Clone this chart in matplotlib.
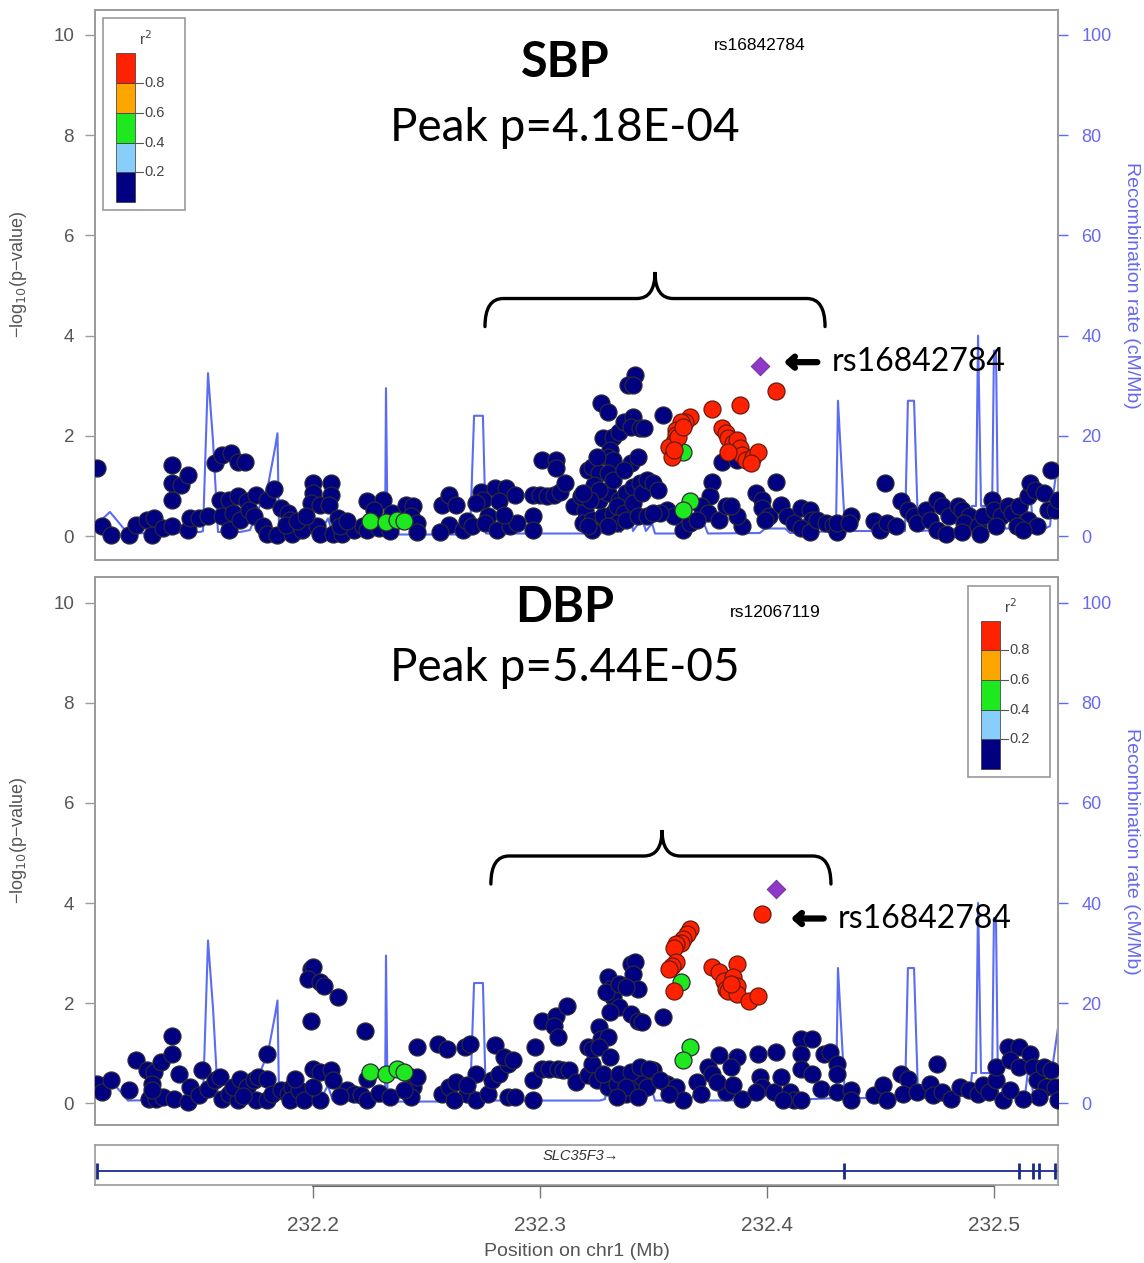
import matplotlib
matplotlib.use("Agg")
import matplotlib.pyplot as plt
from matplotlib.patches import Rectangle, PathPatch
from matplotlib.path import Path

plt.rcParams['font.family'] = ['Liberation Sans', 'DejaVu Sans']

# ============================================================
# data (positions in Mb on chr1, -log10 p)
# ============================================================

LD_COLORS = ['#000080', '#87cefa', '#1ee81e', '#ffa500', '#ff2200']
LD_BREAKS = ['0.2', '0.4', '0.6', '0.8']

# recombination rate (cM/Mb), shared by both panels
recomb_pos = [232.1040, 232.1106, 232.1185, 232.1503, 232.1516, 232.1538, 232.1560, 232.1582,
              232.1679, 232.1723, 232.1802, 232.1833, 232.1844, 232.1851, 232.2031, 232.2066,
              232.2088, 232.2318, 232.2322, 232.2329, 232.2692, 232.2710, 232.2749, 232.2762,
              232.3265, 232.3287, 232.3300, 232.3313, 232.3344, 232.3357, 232.3397, 232.3410,
              232.3450, 232.3467, 232.3494, 232.3507, 232.3661, 232.3683, 232.3727, 232.3740,
              232.3969, 232.3992, 232.4080, 232.4102, 232.4304, 232.4313, 232.4344, 232.4608,
              232.4621, 232.4648, 232.4666, 232.4895, 232.4903, 232.4921, 232.4930, 232.4943,
              232.4992, 232.5000, 232.5009, 232.5018, 232.5137, 232.5159, 232.5172, 232.5225,
              232.5247, 232.5260, 232.5282]
recomb_rate = [2.0, 4.8, 0.5, 0.8, 1.0, 32.5, 19, 0.8,
               0.8, 1.2, 10, 17.5, 20.5, 0.8, 0.5, 3.5,
               0.5, 0.3, 29.5, 0.3, 0.3, 24, 24, 0.5,
               0.5, 0.8, 5.5, 0.8, 4.5, 0.8, 6, 1,
               3.5, 1, 2.5, 0.5, 0.5, 2.0, 2.0, 0.5,
               0.6, 1.5, 1.5, 0.6, 1, 27, 1, 1,
               27, 27, 1, 1.5, 6, 6, 40, 6,
               6, 37, 37, 1.5, 1.5, 10, 1.5, 1.5,
               2, 8, 15]

# ---- SBP ----
sbp_navy_pos = [
    232.105, 232.107, 232.111, 232.119, 232.122, 232.127, 232.129, 232.130, 232.134, 232.138,
    232.138, 232.138, 232.138, 232.142, 232.145, 232.145, 232.146, 232.150, 232.154, 232.157,
    232.160, 232.164, 232.167, 232.170, 232.159, 232.163, 232.167, 232.171, 232.175, 232.180,
    232.183, 232.160, 232.163, 232.165, 232.168, 232.172, 232.174, 232.178, 232.180, 232.184,
    232.186, 232.189, 232.190, 232.191, 232.195, 232.200, 232.200, 232.199, 232.203, 232.208,
    232.208, 232.207, 232.211, 232.202, 232.203, 232.209, 232.213, 232.218, 232.222, 232.224,
    232.231, 232.227, 232.235, 232.224, 232.188, 232.193, 232.197, 232.212, 232.215, 232.229,
    232.234,
    232.241, 232.244, 232.243, 232.246, 232.246, 232.257, 232.260, 232.263, 232.260, 232.256,
    232.266, 232.268, 232.270, 232.274, 232.275, 232.272, 232.280, 232.285, 232.289, 232.282,
    232.277, 232.276, 232.281, 232.287, 232.290, 232.284, 232.297, 232.300, 232.303, 232.306,
    232.309, 232.311, 232.297, 232.297, 232.301, 232.307, 232.307, 232.315, 232.320, 232.318,
    232.321, 232.323, 232.326, 232.324, 232.327, 232.330, 232.328, 232.332, 232.335, 232.337,
    232.341, 232.340, 232.344, 232.346, 232.342, 232.339, 232.341, 232.331, 232.330, 232.332,
    232.354, 232.380, 232.387, 232.376, 232.375, 232.371, 232.374, 232.379, 232.382, 232.363,
    232.366, 232.369, 232.356, 232.359, 232.353, 232.319, 232.323, 232.328, 232.332, 232.326,
    232.330, 232.335, 232.338, 232.341, 232.344, 232.334, 232.337, 232.341, 232.345, 232.347,
    232.350, 232.352, 232.334, 232.330, 232.325, 232.330, 232.332, 232.326, 232.322, 232.319,
    232.340, 232.337, 232.343, 232.323, 232.321, 232.338, 232.343, 232.347, 232.350,
    232.404, 232.395, 232.398, 232.398, 232.401, 232.399, 232.389, 232.387, 232.384, 232.406,
    232.409, 232.412, 232.415, 232.419, 232.420, 232.415, 232.419, 232.422, 232.426, 232.429,
    232.431, 232.431, 232.437, 232.436, 232.452, 232.447, 232.450, 232.453, 232.457, 232.459,
    232.462, 232.465, 232.466, 232.470, 232.472, 232.475, 232.477, 232.480, 232.475, 232.479,
    232.484, 232.486, 232.489, 232.487, 232.493, 232.495, 232.499, 232.500, 232.503, 232.506,
    232.508, 232.511, 232.515, 232.516, 232.518, 232.515, 232.519, 232.522, 232.525, 232.524,
    232.527, 232.528, 232.510, 232.513, 232.501, 232.494, 232.486]
sbp_navy_logp = [
    1.35, 0.19, 0.02, 0.02, 0.22, 0.32, 0.02, 0.35, 0.15, 0.19,
    0.72, 1.42, 1.05, 1.02, 1.22, 0.12, 0.35, 0.35, 0.39, 1.45,
    1.62, 1.65, 1.48, 1.48, 0.72, 0.72, 0.79, 0.69, 0.82, 0.72,
    0.93, 0.39, 0.12, 0.45, 0.32, 0.52, 0.39, 0.19, 0.05, 0.02,
    0.55, 0.45, 0.32, 0.05, 0.12, 1.05, 0.85, 0.65, 0.62, 1.05,
    0.82, 0.62, 0.35, 0.19, 0.05, 0.05, 0.05, 0.12, 0.19, 0.69,
    0.72, 0.52, 0.45, 0.12, 0.22, 0.30, 0.40, 0.20, 0.30, 0.15,
    0.10,
    0.62, 0.59, 0.39, 0.25, 0.09, 0.62, 0.82, 0.62, 0.22, 0.09,
    0.12, 0.29, 0.19, 0.88, 0.72, 0.65, 0.95, 0.95, 0.82, 0.69,
    0.39, 0.25, 0.12, 0.19, 0.25, 0.42, 0.82, 0.82, 0.79, 0.82,
    0.88, 1.05, 0.39, 0.12, 1.52, 1.52, 1.35, 0.59, 0.52, 0.79,
    1.32, 1.38, 1.25, 1.02, 2.65, 2.48, 1.95, 1.98, 2.08, 2.28,
    2.38, 2.18, 2.15, 2.15, 3.21, 3.01, 3.01, 1.72, 1.58, 1.52,
    2.42, 1.47, 1.52, 1.08, 0.79, 0.59, 0.45, 0.32, 0.59, 0.12,
    0.25, 0.32, 0.52, 0.39, 0.45, 0.25, 0.32, 0.39, 0.45, 0.72,
    0.85, 0.72, 0.85, 0.98, 1.05, 0.59, 0.45, 0.65, 0.85, 1.12,
    1.05, 0.92, 0.25, 0.19, 1.58, 1.25, 1.12, 0.92, 0.72, 0.85,
    1.45, 1.32, 1.58, 0.12, 0.19, 0.32, 0.39, 0.39, 0.45,
    1.08, 0.85, 0.72, 0.55, 0.39, 0.32, 0.19, 0.39, 0.59, 0.62,
    0.39, 0.25, 0.55, 0.52, 0.32, 0.15, 0.09, 0.32, 0.25, 0.22,
    0.09, 0.25, 0.39, 0.25, 1.05, 0.29, 0.12, 0.25, 0.19, 0.69,
    0.52, 0.39, 0.25, 0.52, 0.32, 0.72, 0.59, 0.39, 0.12, 0.05,
    0.59, 0.52, 0.39, 0.25, 0.19, 0.39, 0.72, 0.52, 0.39, 0.59,
    0.45, 0.59, 0.79, 1.05, 0.92, 0.32, 0.19, 0.85, 1.32, 0.52,
    0.52, 0.72, 0.19, 0.12, 0.19, 0.05, 0.09]
sbp_red_pos = [232.366, 232.364, 232.362, 232.360, 232.360, 232.359, 232.357, 232.358, 232.361,
               232.363, 232.359, 232.376, 232.388, 232.404, 232.380, 232.382, 232.383, 232.385,
               232.387, 232.388, 232.389, 232.391, 232.394, 232.396, 232.393, 232.383]
sbp_red_logp = [2.38, 2.28, 2.28, 2.12, 2.02, 1.88, 1.78, 1.58, 1.98,
                2.18, 1.72, 2.53, 2.61, 2.89, 2.16, 2.06, 1.96, 1.86,
                1.92, 1.76, 1.62, 1.52, 1.58, 1.68, 1.46, 1.68]
sbp_green_pos = [232.225, 232.232, 232.237, 232.240, 232.363, 232.366, 232.363]
sbp_green_logp = [0.29, 0.27, 0.32, 0.30, 1.68, 0.69, 0.52]
sbp_lead = (232.397, 3.39)

# ---- DBP ----
dbp_navy_pos = [
    232.105, 232.107, 232.111, 232.119, 232.122, 232.127, 232.130, 232.133, 232.129, 232.128,
    232.131, 232.134, 232.129, 232.138, 232.138, 232.141, 232.139, 232.145, 232.146, 232.150,
    232.151, 232.154, 232.157, 232.159, 232.160, 232.163, 232.167, 232.165, 232.168, 232.171,
    232.174, 232.176, 232.175, 232.180, 232.180, 232.180, 232.182, 232.186, 232.189, 232.191,
    232.190, 232.194, 232.196, 232.192, 232.199, 232.200, 232.198, 232.203, 232.205, 232.211,
    232.199, 232.200, 232.203, 232.208, 232.209, 232.215, 232.203, 232.200, 232.218, 232.221,
    232.224, 232.223, 232.224, 232.212, 232.229, 232.234, 232.169,
    232.246, 232.243, 232.244, 232.243, 232.246, 232.240, 232.255, 232.259, 232.267, 232.269,
    232.280, 232.257, 232.260, 232.263, 232.268, 232.272, 232.272, 232.277, 232.279, 232.282,
    232.286, 232.284, 232.288, 232.262, 232.268, 232.286, 232.289, 232.297, 232.297, 232.298,
    232.301, 232.307, 232.312, 232.306, 232.308, 232.301, 232.304, 232.308, 232.310, 232.313,
    232.316, 232.321, 232.323, 232.321, 232.323, 232.326, 232.327, 232.330, 232.326, 232.331,
    232.325, 232.330, 232.334, 232.341, 232.345, 232.350, 232.347, 232.338, 232.328, 232.335,
    232.340, 232.344, 232.348, 232.338, 232.334, 232.343, 232.330, 232.331, 232.332, 232.329,
    232.335, 232.331, 232.340, 232.343, 232.345, 232.340, 232.342, 232.341, 232.343, 232.335,
    232.338, 232.354, 232.356, 232.360, 232.363, 232.357, 232.353, 232.369, 232.371, 232.374,
    232.376, 232.379, 232.382, 232.378,
    232.387, 232.384, 232.396, 232.404, 232.397, 232.398, 232.403, 232.406, 232.410, 232.412,
    232.415, 232.407, 232.389, 232.385, 232.395, 232.415, 232.420, 232.415, 232.415, 232.420,
    232.425, 232.428, 232.424, 232.431, 232.431, 232.431, 232.437, 232.437, 232.475, 232.447,
    232.451, 232.453, 232.459, 232.462, 232.460, 232.466, 232.472, 232.473, 232.477, 232.481,
    232.485, 232.489, 232.493, 232.495, 232.498, 232.501, 232.501, 232.506, 232.511, 232.507,
    232.511, 232.516, 232.517, 232.519, 232.522, 232.525, 232.523, 232.527, 232.528, 232.520,
    232.513, 232.504, 232.507]
dbp_navy_logp = [
    0.39, 0.23, 0.47, 0.27, 0.86, 0.66, 0.62, 0.82, 0.39, 0.09,
    0.09, 0.13, 0.26, 1.35, 0.99, 0.59, 0.09, 0.03, 0.33, 0.16,
    0.66, 0.29, 0.46, 0.52, 0.09, 0.19, 0.06, 0.33, 0.49, 0.33,
    0.46, 0.52, 0.06, 0.06, 0.49, 0.99, 0.19, 0.26, 0.19, 0.33,
    0.06, 0.26, 0.06, 0.49, 2.68, 2.72, 2.48, 2.42, 2.35, 2.12,
    1.65, 0.69, 0.62, 0.66, 0.46, 0.26, 0.06, 0.33, 0.19, 0.16,
    0.06, 1.45, 0.49, 0.15, 0.20, 0.12, 0.15,
    1.12, 0.52, 0.33, 0.13, 0.52, 0.26, 1.19, 1.09, 1.12, 1.19,
    1.16, 0.19, 0.33, 0.42, 0.19, 0.59, 0.06, 0.19, 0.46, 0.59,
    0.79, 0.92, 0.86, 0.06, 0.36, 0.13, 0.13, 0.46, 0.06, 1.12,
    1.65, 1.75, 1.95, 1.55, 1.32, 0.69, 0.69, 0.69, 0.66, 0.66,
    0.42, 0.56, 0.79, 1.12, 1.09, 1.52, 1.29, 1.32, 1.12, 0.92,
    0.46, 0.33, 0.39, 0.42, 0.52, 0.66, 0.33, 0.19, 0.59, 0.59,
    0.62, 0.72, 0.69, 0.33, 0.13, 0.13, 2.52, 2.28, 2.12, 2.22,
    1.92, 1.82, 1.79, 1.65, 1.62, 2.78, 2.82, 2.58, 2.28, 2.39,
    2.32, 1.72, 0.39, 0.33, 0.06, 0.19, 0.46, 0.42, 0.19, 0.72,
    0.59, 0.96, 0.23, 0.42,
    0.92, 0.72, 0.99, 1.02, 0.52, 0.33, 0.23, 0.52, 0.23, 0.06,
    0.06, 0.06, 0.09, 0.36, 0.23, 1.29, 1.29, 0.99, 0.69, 0.59,
    0.99, 1.02, 0.29, 0.79, 0.59, 0.23, 0.26, 0.06, 0.79, 0.16,
    0.36, 0.06, 0.59, 0.49, 0.19, 0.23, 0.39, 0.16, 0.23, 0.09,
    0.33, 0.26, 0.19, 0.36, 0.23, 0.46, 0.72, 1.12, 1.12, 0.86,
    0.72, 0.99, 0.72, 0.46, 0.72, 0.66, 0.33, 0.33, 0.06, 0.13,
    0.09, 0.06, 0.26]
dbp_red_pos = [232.366, 232.365, 232.363, 232.362, 232.360, 232.359, 232.360, 232.358, 232.357,
               232.359, 232.376, 232.379, 232.381, 232.382, 232.383, 232.398, 232.387, 232.385,
               232.387, 232.387, 232.392, 232.396, 232.384]
dbp_red_logp = [3.48, 3.38, 3.28, 3.21, 3.18, 3.11, 2.82, 2.75, 2.68,
                2.25, 2.72, 2.62, 2.45, 2.28, 2.25, 3.78, 2.78, 2.52,
                2.35, 2.18, 2.05, 2.15, 2.38]
dbp_green_pos = [232.225, 232.232, 232.237, 232.240, 232.362, 232.366, 232.363]
dbp_green_logp = [0.62, 0.58, 0.68, 0.62, 2.42, 1.12, 0.86]
dbp_lead = (232.404, 4.28)

# gene track
gene_start, gene_end = 232.105, 232.528
gene_exons = [232.105, 232.434, 232.511, 232.517, 232.520, 232.527]

XLIM = (232.104, 232.5282)
REC_COLOR = '#5a6cf2'
AX_GRAY = '#9a9a9a'
TXT_GRAY = '#555555'


def draw_brace(ax, x0, x1, xm, y_end, y_mid, y_tip, r=0.008):
    verts = [(x0, y_end), (x0, y_mid), (x0 + r, y_mid), (xm - r, y_mid),
             (xm, y_mid), (xm, y_tip), (xm, y_mid), (xm + r, y_mid),
             (x1 - r, y_mid), (x1, y_mid), (x1, y_end)]
    codes = [Path.MOVETO, Path.CURVE3, Path.CURVE3, Path.LINETO,
             Path.CURVE3, Path.CURVE3, Path.CURVE3, Path.CURVE3,
             Path.LINETO, Path.CURVE3, Path.CURVE3]
    ax.add_patch(PathPatch(Path(verts, codes), fill=False, lw=2.4,
                           edgecolor='black', capstyle='round', zorder=6))


def draw_r2_legend(ax, x0, y0):
    w, h = 0.085, 0.349
    ax.add_patch(Rectangle((x0, y0), w, h, transform=ax.transAxes, facecolor='white',
                           edgecolor='#999999', lw=1.2, zorder=7))
    bx, bw = x0 + 0.0135, 0.0197
    by, bh = y0 + 0.0145, 0.271
    seg = bh / 5
    for i, c in enumerate(LD_COLORS):
        ax.add_patch(Rectangle((bx, by + i * seg), bw, seg, transform=ax.transAxes,
                               facecolor=c, edgecolor='#333333', lw=0.5, zorder=8))
    for i, lab in enumerate(LD_BREAKS):
        yy = by + (i + 1) * seg
        ax.plot([bx + bw, bx + bw + 0.008], [yy, yy], transform=ax.transAxes,
                color='#555555', lw=0.8, zorder=8)
        ax.text(bx + bw + 0.0095, yy, lab, transform=ax.transAxes, fontsize=10.5,
                color='#444444', va='center', ha='left', zorder=8)
    ax.text(x0 + 0.0437, y0 + h - 0.038, 'r$^2$', transform=ax.transAxes, fontsize=11,
            color='#444444', ha='center', va='center', zorder=8)


def draw_panel(ax, navy, green, red, lead, ylim, title, peak, snp_small,
               brace, arrow, legend_xy, label_y):
    ax2 = ax.twinx()
    ax2.plot(recomb_pos, recomb_rate, color=REC_COLOR, lw=1.5, zorder=1)
    ax2.set_ylim(ylim[0] * 10, ylim[1] * 10)
    ax2.set_yticks([0, 20, 40, 60, 80, 100])
    ax2.tick_params(axis='y', direction='out', length=7, width=1, color=REC_COLOR,
                    labelcolor='#6868ee', labelsize=13, pad=10)
    ax2.set_ylabel('Recombination rate (cM/Mb)', color='#6868ee', fontsize=14,
                   rotation=270, labelpad=20)
    ax.set_zorder(ax2.get_zorder() + 1)
    ax.patch.set_visible(False)

    ax.scatter(navy[0], navy[1], s=150, c=LD_COLORS[0], edgecolors='#2a2a3a', linewidths=0.9, zorder=3)
    ax.scatter(green[0], green[1], s=150, c=LD_COLORS[2], edgecolors='#2a2a3a', linewidths=0.9, zorder=4)
    ax.scatter(red[0], red[1], s=150, c=LD_COLORS[4], edgecolors='#6a1a10', linewidths=0.9, zorder=4)
    ax.scatter([lead[0]], [lead[1]], s=90, marker='D', c='#9038c8', edgecolors='#6a2a90',
               linewidths=0.6, zorder=5)

    ax.set_xlim(*XLIM)
    ax2.set_xlim(*XLIM)
    ax.set_ylim(*ylim)
    ax.set_xticks([])
    ax.set_yticks([0, 2, 4, 6, 8, 10])
    ax.tick_params(axis='y', direction='out', length=7, width=1, color=AX_GRAY,
                   labelcolor=TXT_GRAY, labelsize=13.5, pad=8)
    ax.set_ylabel('\u2212log$_{10}$(p\u2212value)', color=TXT_GRAY, fontsize=13)
    ax.yaxis.set_label_coords(-0.069, label_y)
    for a in (ax, ax2):
        for sp in a.spines.values():
            sp.set_color(AX_GRAY)
            sp.set_linewidth(1.2)

    ax.text(0.488, title[1], title[0], transform=ax.transAxes, fontsize=35,
            fontweight='bold', family=['Lato', 'DejaVu Sans'], ha='center', va='center')
    ax.text(0.488, peak[1], peak[0], transform=ax.transAxes, fontsize=33,
            family=['Lato', 'DejaVu Sans'], ha='center', va='center')
    ax.text(snp_small[1], snp_small[2], snp_small[0], transform=ax.transAxes,
            fontsize=12.5, ha='center', va='center')

    draw_brace(ax, *brace)
    ax.annotate('', xy=(arrow[0], arrow[2]), xytext=(arrow[1], arrow[2]),
                arrowprops=dict(arrowstyle='->,head_length=0.45,head_width=0.4',
                                lw=4.5, color='black', shrinkA=0, shrinkB=0), zorder=6)
    ax.text(arrow[3], arrow[2], 'rs16842784', fontsize=23, family=['Lato', 'DejaVu Sans'],
            ha='left', va='center', zorder=6)

    draw_r2_legend(ax, *legend_xy)


fig = plt.figure(figsize=(11.44, 12.63), dpi=100)
ax_top = fig.add_axes([0.0830, 0.5566, 0.8418, 0.4355])
ax_bot = fig.add_axes([0.0830, 0.1093, 0.8418, 0.4339])
ax_gene = fig.add_axes([0.0830, 0.0618, 0.8418, 0.0317])

draw_panel(ax_top, (sbp_navy_pos, sbp_navy_logp), (sbp_green_pos, sbp_green_logp),
           (sbp_red_pos, sbp_red_logp), sbp_lead, (-0.479, 10.499),
           ('SBP', 0.905), ('Peak p=4.18E-04', 0.785), ('rs16842784', 0.6906, 0.936),
           (232.2758, 232.4256, 232.3507, 4.18, 4.74, 5.27),
           (232.4075, 232.4222, 3.47, 232.4285), (0.0083, 0.636), 0.52)
draw_panel(ax_bot, (dbp_navy_pos, dbp_navy_logp), (dbp_green_pos, dbp_green_logp),
           (dbp_red_pos, dbp_red_logp), dbp_lead, (-0.438, 10.52),
           ('DBP', 0.945), ('Peak p=5.44E-05', 0.834), ('rs12067119', 0.706, 0.936),
           (232.2784, 232.4282, 232.3538, 4.38, 4.94, 5.46),
           (232.4106, 232.4250, 3.69, 232.4310), (0.9065, 0.635), 0.52)

# gene track
ax_gene.plot([gene_start, gene_end], [0.35, 0.35], color='#2a3a9a', lw=1.4, solid_capstyle='butt')
ax_gene.vlines(gene_exons, 0.15, 0.55, color='#1a2a8a', lw=2)
ax_gene.text(232.318, 0.72, 'SLC35F3\u2192', fontsize=10.5, style='italic', color='#333333',
             ha='center', va='center')
ax_gene.plot([232.2, 232.5], [-0.02, -0.02], color='#666666', lw=1.5, clip_on=False)
ax_gene.set_xlim(*XLIM)
ax_gene.set_ylim(0, 1)
ax_gene.set_yticks([])
ax_gene.set_xticks([232.2, 232.3, 232.4, 232.5])
ax_gene.set_xticklabels(['232.2', '232.3', '232.4', '232.5'])
ax_gene.tick_params(axis='x', direction='out', length=9, width=1, color='#777777',
                    labelcolor=TXT_GRAY, labelsize=15, pad=13)
for sp in ax_gene.spines.values():
    sp.set_color(AX_GRAY)
    sp.set_linewidth(1.2)
ax_gene.set_xlabel('Position on chr1 (Mb)', color=TXT_GRAY, fontsize=14, labelpad=6)

fig.savefig('out.png', dpi=100, facecolor='white')
